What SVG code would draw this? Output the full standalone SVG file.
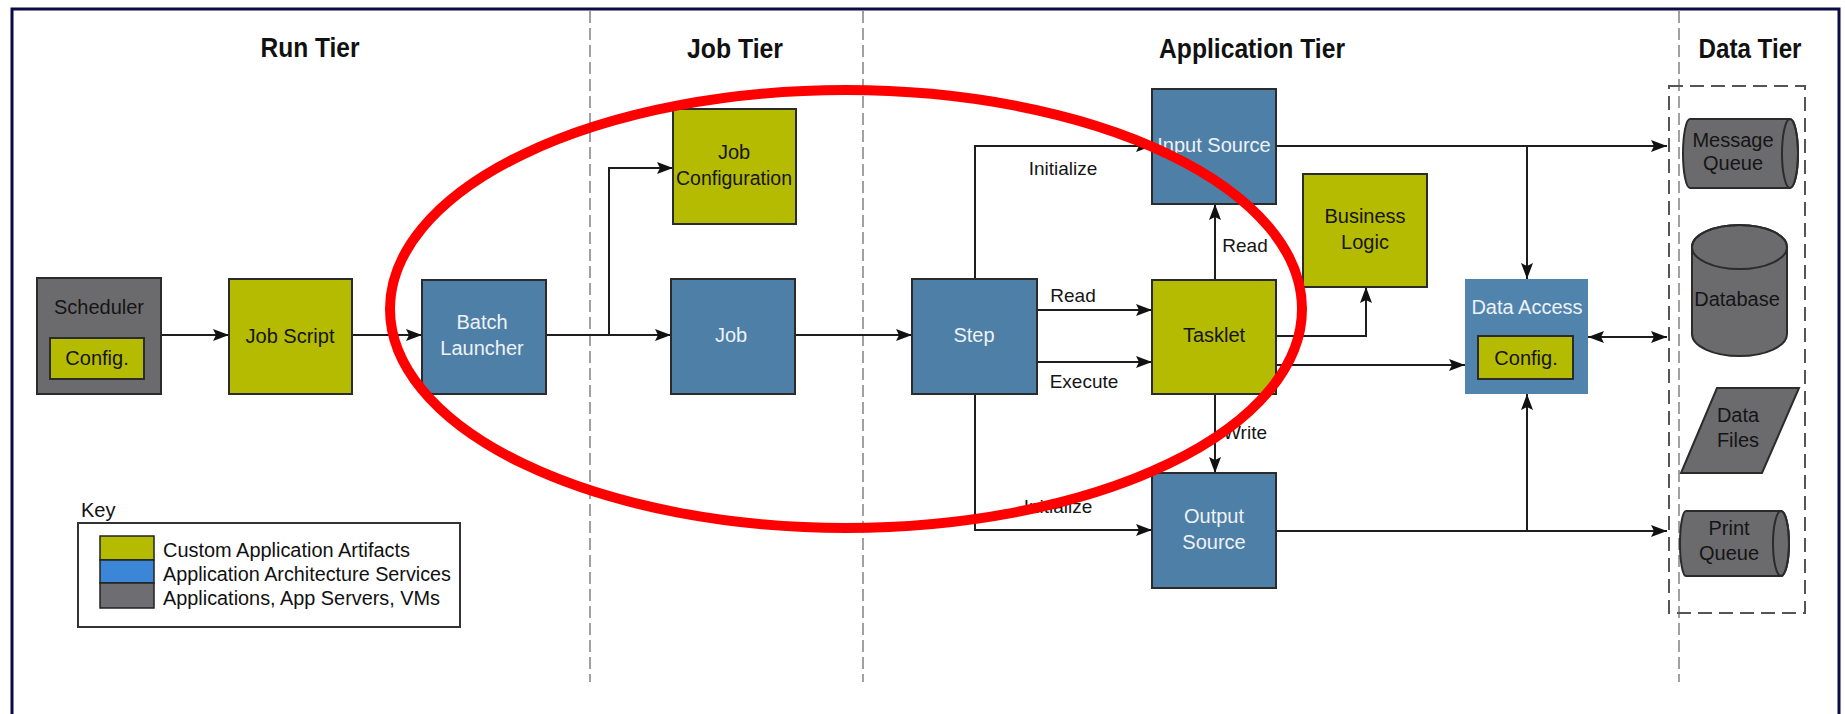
<svg xmlns="http://www.w3.org/2000/svg" width="1845" height="714" viewBox="0 0 1845 714">
  <defs>
    <style>
      .node rect.box { stroke: #2b2b2b; stroke-width: 2; }
      .olive { fill: #b5bb00; }
      .blue { fill: #4e7fa6; }
      .gray { fill: #6b6b6d; }
      .lbl { font-family: "Liberation Sans", Arial, sans-serif; font-size: 20px; text-anchor: middle; dominant-baseline: central; fill: #151515; }
      .lbl.light { fill: #eef2f6; }
      .title { font-family: "Liberation Sans", Arial, sans-serif; font-weight: bold; font-size: 28px; text-anchor: middle; fill: #111; }
      .edge-lbl { font-family: "Liberation Sans", Arial, sans-serif; font-size: 19px; text-anchor: middle; dominant-baseline: central; fill: #151515; }
      .wire { fill: none; stroke: #1e1e1e; stroke-width: 2; }
      .divider { stroke: #8a8a8a; stroke-width: 1.6; stroke-dasharray: 12 5; }
      .shape { stroke: #2b2b2b; stroke-width: 2; }
      .key { font-family: "Liberation Sans", Arial, sans-serif; font-size: 20px; fill: #111; dominant-baseline: central; }
    </style>
    <marker id="arrow" viewBox="0 0 16 12" refX="16" refY="6" markerWidth="16" markerHeight="12" markerUnits="userSpaceOnUse" orient="auto-start-reverse">
      <path d="M0,0 L16,6 L0,12 L3,6 Z" fill="#111"/>
    </marker>
  </defs>

  <rect width="1845" height="714" fill="#ffffff"/>
  <!-- outer frame -->
  <rect x="12" y="9" width="1827" height="720" fill="none" stroke="#0b0b45" stroke-width="3"/>

  <!-- tier dividers -->
  <g id="dividers">
    <line class="divider" x1="590" y1="11" x2="590" y2="682"/>
    <line class="divider" x1="863" y1="11" x2="863" y2="682"/>
    <line class="divider" x1="1679" y1="11" x2="1679" y2="682"/>
  </g>

  <!-- tier titles -->
  <g id="titles">
    <text class="title" x="310" y="57" textLength="99" lengthAdjust="spacingAndGlyphs">Run Tier</text>
    <text class="title" x="735" y="58" textLength="96" lengthAdjust="spacingAndGlyphs">Job Tier</text>
    <text class="title" x="1252" y="58" textLength="186" lengthAdjust="spacingAndGlyphs">Application Tier</text>
    <text class="title" x="1750" y="58" textLength="103" lengthAdjust="spacingAndGlyphs">Data Tier</text>
  </g>

  <!-- data tier container -->
  <rect id="data-tier-box" x="1669" y="86" width="136" height="527" fill="none" stroke="#555" stroke-width="2" stroke-dasharray="14 7"/>

  <!-- connectors -->
  <g id="connectors">
    <path class="wire" d="M161,335 H229" marker-end="url(#arrow)"/>
    <path class="wire" d="M352,335 H422" marker-end="url(#arrow)"/>
    <path class="wire" d="M546,335 H671" marker-end="url(#arrow)"/>
    <path class="wire" d="M609,335 V168 H673" marker-end="url(#arrow)"/>
    <path class="wire" d="M795,335 H912" marker-end="url(#arrow)"/>
    <path class="wire" d="M975,279 V146 H1152" marker-end="url(#arrow)"/>
    <path class="wire" d="M1037,310 H1152" marker-end="url(#arrow)"/>
    <path class="wire" d="M1037,362 H1152" marker-end="url(#arrow)"/>
    <path class="wire" d="M975,394 V530 H1152" marker-end="url(#arrow)"/>
    <path class="wire" d="M1215,280 V204" marker-end="url(#arrow)"/>
    <path class="wire" d="M1215,394 V473" marker-end="url(#arrow)"/>
    <path class="wire" d="M1276,336 H1366 V287" marker-end="url(#arrow)"/>
    <path class="wire" d="M1276,365 H1465" marker-end="url(#arrow)"/>
    <path class="wire" d="M1276,146 H1667" marker-end="url(#arrow)"/>
    <path class="wire" d="M1527,146 V279" marker-end="url(#arrow)"/>
    <path class="wire" d="M1276,531 H1667" marker-end="url(#arrow)"/>
    <path class="wire" d="M1527,531 V394" marker-end="url(#arrow)"/>
    <path class="wire" d="M1588,337 H1667" marker-start="url(#arrow)" marker-end="url(#arrow)"/>

    <text class="edge-lbl" x="1063" y="168">Initialize</text>
    <text class="edge-lbl" x="1073" y="295">Read</text>
    <text class="edge-lbl" x="1084" y="381">Execute</text>
    <text class="edge-lbl" x="1058" y="506">Initialize</text>
    <text class="edge-lbl" x="1245" y="245">Read</text>
    <text class="edge-lbl" x="1245" y="432">Write</text>
  </g>

  <!-- run tier -->
  <g id="scheduler" class="node">
    <rect class="box gray" x="37" y="278" width="124" height="116"/>
    <text class="lbl" x="99" y="307">Scheduler</text>
    <rect class="box olive" x="50" y="338" width="94" height="41"/>
    <text class="lbl" x="97" y="358">Config.</text>
  </g>
  <g id="job-script" class="node">
    <rect class="box olive" x="229" y="279" width="123" height="115"/>
    <text class="lbl" x="290" y="336">Job Script</text>
  </g>
  <g id="batch-launcher" class="node">
    <rect class="box blue" x="422" y="280" width="124" height="114"/>
    <text class="lbl light" x="482" y="322">Batch</text>
    <text class="lbl light" x="482" y="348">Launcher</text>
  </g>

  <!-- job tier -->
  <g id="job-configuration" class="node">
    <rect class="box olive" x="673" y="109" width="123" height="115"/>
    <text class="lbl" x="734" y="152">Job</text>
    <text class="lbl" x="734" y="178" textLength="116" lengthAdjust="spacingAndGlyphs">Configuration</text>
  </g>
  <g id="job" class="node">
    <rect class="box blue" x="671" y="279" width="124" height="115"/>
    <text class="lbl light" x="731" y="335">Job</text>
  </g>

  <!-- application tier -->
  <g id="step" class="node">
    <rect class="box blue" x="912" y="279" width="125" height="115"/>
    <text class="lbl light" x="974" y="335">Step</text>
  </g>
  <g id="input-source" class="node">
    <rect class="box blue" x="1152" y="89" width="124" height="115"/>
    <text class="lbl light" x="1214" y="145">Input Source</text>
  </g>
  <g id="tasklet" class="node">
    <rect class="box olive" x="1152" y="280" width="124" height="114"/>
    <text class="lbl" x="1214" y="335">Tasklet</text>
  </g>
  <g id="business-logic" class="node">
    <rect class="box olive" x="1303" y="174" width="124" height="113"/>
    <text class="lbl" x="1365" y="216">Business</text>
    <text class="lbl" x="1365" y="242">Logic</text>
  </g>
  <g id="output-source" class="node">
    <rect class="box blue" x="1152" y="473" width="124" height="115"/>
    <text class="lbl light" x="1214" y="516">Output</text>
    <text class="lbl light" x="1214" y="542">Source</text>
  </g>
  <g id="data-access" class="node">
    <rect x="1465" y="279" width="123" height="115" fill="#5184ad"/>
    <text class="lbl light" x="1527" y="307">Data Access</text>
    <rect class="box olive" x="1478" y="336" width="95" height="43"/>
    <text class="lbl" x="1526" y="358">Config.</text>
  </g>

  <!-- data tier -->
  <g id="message-queue" class="node">
    <path class="shape gray" d="M1690,119 L1790,119 A8,34.5 0 0 1 1790,188 L1690,188 A7,34.5 0 0 1 1690,119 Z"/>
    <ellipse class="shape" cx="1790" cy="153.5" rx="8" ry="34.5" fill="none"/>
    <text class="lbl" x="1733" y="140" font-size="18">Message</text>
    <text class="lbl" x="1733" y="163" font-size="18">Queue</text>
  </g>
  <g id="database" class="node">
    <path class="shape gray" d="M1692,247 L1692,334 A47.5,22 0 0 0 1787,334 L1787,247 A47.5,22 0 0 0 1692,247 Z"/>
    <ellipse class="shape" cx="1739.5" cy="247" rx="47.5" ry="22" fill="none"/>
    <text class="lbl" x="1737" y="299" font-size="18">Database</text>
  </g>
  <g id="data-files" class="node">
    <path class="shape gray" d="M1717,388 L1799,388 L1762,473 L1681,473 Z"/>
    <text class="lbl" x="1738" y="415" font-size="18">Data</text>
    <text class="lbl" x="1738" y="440" font-size="18">Files</text>
  </g>
  <g id="print-queue" class="node">
    <path class="shape gray" d="M1686,511 L1781,511 A8,32.5 0 0 1 1781,576 L1686,576 A6,32.5 0 0 1 1686,511 Z"/>
    <ellipse class="shape" cx="1781" cy="543.5" rx="8" ry="32.5" fill="none"/>
    <text class="lbl" x="1729" y="528" font-size="18">Print</text>
    <text class="lbl" x="1729" y="553" font-size="18">Queue</text>
  </g>

  <!-- key -->
  <g id="legend">
    <text class="key" x="81" y="510" font-size="14">Key</text>
    <rect x="78" y="523" width="382" height="104" fill="#ffffff" stroke="#333" stroke-width="2"/>
    <rect x="100" y="536" width="54" height="24" fill="#b5bb00" stroke="#222" stroke-width="1.5"/>
    <rect x="100" y="560" width="54" height="23" fill="#3b86d6" stroke="#222" stroke-width="1.5"/>
    <rect x="100" y="583" width="54" height="25" fill="#6d6d72" stroke="#222" stroke-width="1.5"/>
    <text class="key" x="163" y="550" textLength="247" lengthAdjust="spacingAndGlyphs">Custom Application Artifacts</text>
    <text class="key" x="163" y="574" textLength="288" lengthAdjust="spacingAndGlyphs">Application Architecture Services</text>
    <text class="key" x="163" y="598" textLength="277" lengthAdjust="spacingAndGlyphs">Applications, App Servers, VMs</text>
  </g>

  <!-- highlight ring -->
  <ellipse id="highlight" cx="846" cy="309" rx="456" ry="219" fill="none" stroke="#ff0000" stroke-width="10"/>
</svg>
